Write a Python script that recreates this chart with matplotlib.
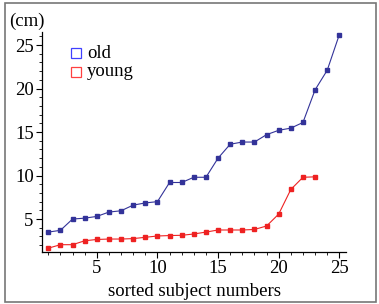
import matplotlib
matplotlib.use("Agg")
import matplotlib.pyplot as plt
from matplotlib.patches import Rectangle
from matplotlib.ticker import MultipleLocator

plt.rcParams['font.family'] = ['Liberation Serif', 'DejaVu Serif']

# sorted subject measurements (cm)
old_x = list(range(1, 26))
old_y = [3.5, 3.7, 5.0, 5.1, 5.3, 5.8, 5.95, 6.6, 6.85, 7.0, 9.2, 9.2, 9.8, 9.8,
         12.0, 13.6, 13.85, 13.85, 14.7, 15.2, 15.45, 16.1, 19.85, 22.1, 26.2]
young_x = list(range(1, 24))
young_y = [1.65, 2.05, 2.05, 2.5, 2.65, 2.7, 2.7, 2.75, 2.9, 3.05, 3.1, 3.13, 3.28,
           3.5, 3.74, 3.74, 3.74, 3.8, 4.2, 5.57, 8.4, 9.8, 9.85]

W, H = 379, 304
fig = plt.figure(figsize=(W / 100, H / 100), dpi=100)
fig.patches.append(Rectangle((5 / W, 2 / H), 371 / W, 299 / H, transform=fig.transFigure,
                             fill=False, edgecolor='#777777', linewidth=1.2))

ax = fig.add_axes([42 / W, (H - 252) / H, (346 - 42) / W, (252 - 32) / H])
ax.plot(old_x, old_y, color='#333399', lw=0.8, marker='s', ms=2.2)
ax.plot(young_x, young_y, color='#ee2222', lw=0.8, marker='s', ms=2.2)

ax.set_xlim(0.48, 25.55)
ax.set_ylim(1.21, 26.5)
for s in ['top', 'right']:
    ax.spines[s].set_visible(False)
for s in ['left', 'bottom']:
    ax.spines[s].set_linewidth(0.9)
ax.xaxis.set_major_locator(MultipleLocator(5))
ax.xaxis.set_minor_locator(MultipleLocator(1))
ax.yaxis.set_major_locator(MultipleLocator(5))
ax.yaxis.set_minor_locator(MultipleLocator(1))
ax.tick_params(which='major', length=4, width=0.8, labelsize=13.5, pad=2)
ax.tick_params(which='minor', length=2, width=0.6)

ax.set_xlabel('sorted subject numbers', fontsize=13.5, labelpad=4)
fig.text(27 / W, 1 - 21 / H, '(cm)', fontsize=13.5, ha='center', va='center')

# legend
for yy, col, lab in [(53, '#4040ff', 'old'), (72, '#ff4040', 'young')]:
    fig.patches.append(Rectangle((70.5 / W, 1 - (yy + 5) / H), 10 / W, 10 / H,
                                 transform=fig.transFigure, fill=False,
                                 edgecolor=col, linewidth=0.9))
    fig.text(87 / W, 1 - yy / H, lab, fontsize=13.5, ha='left', va='center')

fig.savefig('out.png', dpi=100)
